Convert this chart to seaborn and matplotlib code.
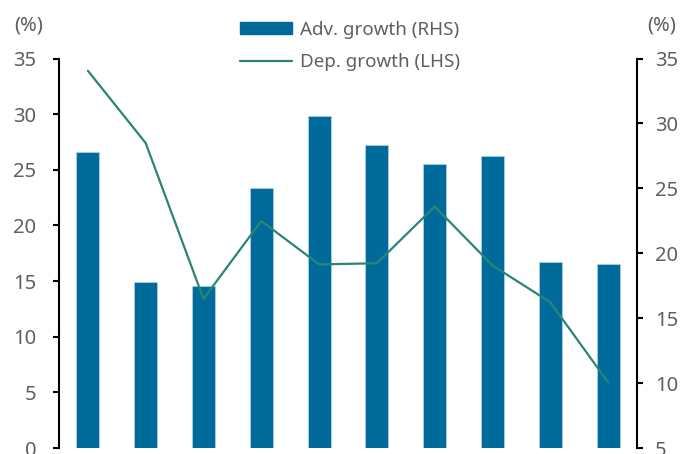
import matplotlib
matplotlib.use("Agg")
import matplotlib.pyplot as plt
import seaborn as sns
import pandas as pd
from matplotlib.patches import Patch
from matplotlib.lines import Line2D

categories = ["1", "2", "3", "4", "5", "6", "7", "8", "9", "10"]
adv_growth = [27.8, 17.8, 17.5, 25.0, 30.6, 28.3, 26.9, 27.5, 19.3, 19.15]   # RHS
dep_growth = [33.9, 27.4, 13.4, 20.4, 16.5, 16.6, 21.7, 16.4, 13.1, 5.9]     # LHS
left_ticks = [0, 5, 10, 15, 20, 25, 30, 35]
right_ticks = [5, 10, 15, 20, 25, 30, 35]

df = pd.DataFrame({"cat": categories, "adv": adv_growth, "dep": dep_growth,
                   "pos": range(len(categories))})

sns.set_theme(style="white")
plt.rcParams["font.family"] = ["Noto Sans", "DejaVu Sans"]
plt.rcParams["font.weight"] = "medium"

bar_color = "#006a9b"
line_color = "#2b8576"
txt_color = "#5f5f5f"
fs = 14.5

fig = plt.figure(figsize=(6.82, 4.54), dpi=100)
ax = fig.add_axes([59/682, 1-448/454, (637-59)/682, (448-58.5)/454])
ax2 = ax.twinx()
ax.set_zorder(1)
ax2.set_zorder(2)
ax2.patch.set_visible(False)

# Bars on host axis (right scale)
sns.barplot(data=df, x="cat", y="adv", ax=ax, color=bar_color, width=0.4,
            edgecolor="#a8d2e6", linewidth=0.6, saturation=1)
ax.set_ylim(5, 35)
ax.set_xlim(-0.5, len(categories) - 0.5)
ax.set_yticks(right_ticks)
ax.set_xlabel("")
ax.set_ylabel("")
ax.set_xticks([])

# Line on twin axis (left scale)
sns.lineplot(data=df, x="pos", y="dep", ax=ax2, color=line_color, linewidth=1.6)
ax2.set_ylim(0, 35)
ax2.set_xlim(-0.5, len(categories) - 0.5)
ax2.set_yticks(left_ticks)
ax2.set_xlabel("")
ax2.set_ylabel("")
ax2.set_xticks([])

for a in (ax, ax2):
    for s in ("top", "bottom", "left", "right"):
        a.spines[s].set_visible(False)

ax.spines["right"].set_visible(True)
ax.spines["right"].set_color("black")
ax.spines["right"].set_linewidth(1.5)
ax2.spines["left"].set_visible(True)
ax2.spines["left"].set_color("black")
ax2.spines["left"].set_linewidth(1.5)

ax.tick_params(axis="y", which="both", right=True, left=False, labelright=True,
               labelleft=False, direction="out", length=4, width=1.5,
               color="black", labelsize=fs, labelcolor=txt_color, pad=9)
ax2.tick_params(axis="y", which="both", left=True, right=False, labelleft=True,
                labelright=False, direction="out", length=4.3, width=1.5,
                color="black", labelsize=fs, labelcolor=txt_color, pad=12)

fig.text(14/682, 1-25/454, "(%)", fontsize=fs, color=txt_color, va="center", ha="left")
fig.text(647/682, 1-25/454, "(%)", fontsize=fs, color=txt_color, va="center", ha="left")

handles = [Patch(facecolor=bar_color, edgecolor=bar_color),
           Line2D([0], [0], color=line_color, linewidth=1.6)]
labels = ["Adv. growth (RHS)", "Dep. growth (LHS)"]
fig.legend(handles, labels, loc="center", bbox_to_anchor=(350/682, 1-46/454),
           frameon=False, fontsize=13.5, labelcolor=txt_color, handlelength=2.8,
           handletextpad=0.4, labelspacing=0.75, handleheight=0.6)

fig.savefig("out.png", dpi=100)
